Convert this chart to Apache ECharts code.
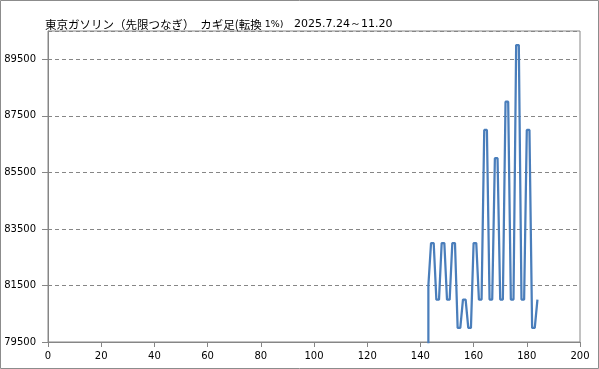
<!DOCTYPE html>
<html>
<head>
<meta charset="utf-8">
<script src="https://cdn.jsdelivr.net/npm/echarts@6/dist/echarts.min.js"></script>
<style>
html,body{margin:0;padding:0;background:#fff;}
#chart{width:599px;height:369px;}
</style>
</head>
<body>
<div id="chart"></div>
<script>
// Data (kagi line vertices)
const xValues = [143,143,144,145,146,147,148,149,150,151,152,153,154,155,156,157,158,159,160,161,162,163,164,165,166,167,168,169,170,171,172,173,174,175,176,177,178,179,180,181,182,183,184];
const yValues = [79000,81500,83000,83000,81000,81000,83000,83000,81000,81000,83000,83000,80000,80000,81000,81000,80000,80000,83000,83000,81000,81000,87000,87000,81000,81000,86000,86000,81000,81000,88000,88000,81000,81000,90000,90000,81000,81000,87000,87000,80000,80000,81000];
const titleMain = '東京ガソリン（先限つなぎ）　カギ足(転換';
const titleRate = ' 1%)';
const titlePeriod = '   2025.7.24～11.20';
const xMin = 0, xMax = 200, xStep = 20;
const yMin = 79500, yMax = 90500, yStep = 2000;

const points = xValues.map((x, i) => [x, yValues[i]]);
const chart = echarts.init(document.getElementById('chart'), null, {renderer: 'canvas'});
const axisGray = '#868686';
chart.setOption({
  animation: false,
  backgroundColor: '#ffffff',
  title: {
    text: '{a|' + titleMain + '}{b|' + titleRate + '}{c|' + titlePeriod + '}',
    left: 40, top: 9,
    textStyle: {
      fontWeight: 'normal',
      rich: {
        a: {fontFamily: '"Noto Sans CJK JP"', fontSize: 11.5, fontWeight: 'normal', color: '#000', verticalAlign: 'bottom', lineHeight: 16},
        b: {fontFamily: '"DejaVu Sans"', fontSize: 9.5, fontWeight: 'normal', color: '#000', verticalAlign: 'bottom', lineHeight: 14},
        c: {fontFamily: '"DejaVu Sans"', fontSize: 11, fontWeight: 'normal', color: '#000', verticalAlign: 'bottom', lineHeight: 15}
      }
    }
  },
  graphic: [{
    type: 'rect', z: 100, silent: true,
    shape: {x: 0.5, y: 0.5, width: 598, height: 368},
    style: {fill: null, stroke: '#8c8c8c', lineWidth: 1}
  }],
  grid: {left: 48, right: 19, top: 31, bottom: 27, show: true, borderColor: axisGray, borderWidth: 1, backgroundColor: 'transparent'},
  xAxis: {
    type: 'value', min: xMin, max: xMax, interval: xStep,
    axisLine: {show: true, lineStyle: {color: axisGray, width: 1}},
    axisTick: {show: true, length: 5, lineStyle: {color: axisGray}},
    axisLabel: {fontFamily: '"DejaVu Sans"', fontSize: 10, color: '#000', margin: 9},
    splitLine: {show: false}
  },
  yAxis: {
    type: 'value', min: yMin, max: yMax, interval: yStep,
    axisLine: {show: true, lineStyle: {color: axisGray, width: 1}},
    axisTick: {show: true, length: 6, lineStyle: {color: axisGray}},
    axisLabel: {fontFamily: '"DejaVu Sans"', fontSize: 10, color: '#000', margin: 12, showMaxLabel: false,
      formatter: v => String(v)},
    splitLine: {show: true, lineStyle: {color: axisGray, type: [4, 3], width: 1}}
  },
  series: [{
    type: 'line',
    data: points,
    showSymbol: false,
    clip: true,
    lineStyle: {color: '#4a7ebb', width: 2.25},
    itemStyle: {color: '#4a7ebb'}
  }]
});
</script>
</body>
</html>
